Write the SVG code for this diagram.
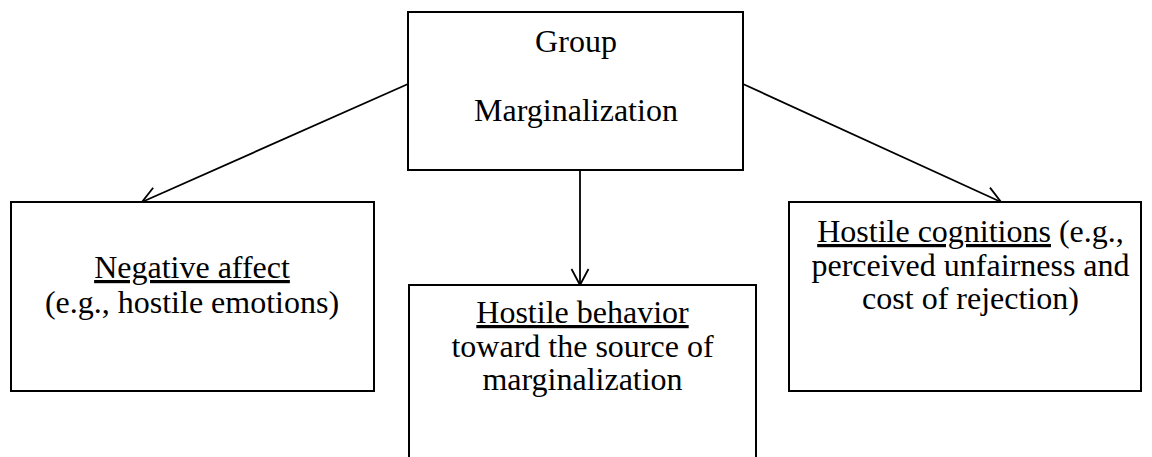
<svg xmlns="http://www.w3.org/2000/svg" width="1152" height="457" viewBox="0 0 1152 457">
<style>
.box{fill:#fff;stroke:#000;stroke-width:2}
.t{font-family:"Liberation Serif","Times New Roman",serif;font-size:32px;fill:#000;text-anchor:middle}
.u{text-decoration:underline}
.c{stroke:#000;stroke-width:1.8;fill:none}
</style>
<defs>
<marker id="ah" markerUnits="userSpaceOnUse" markerWidth="20" markerHeight="20" refX="17" refY="9" orient="auto" viewBox="0 0 20 18">
<path d="M1,0.5 L17,9 L1,17.5" fill="none" stroke="#000" stroke-width="1.8"/>
</marker>
</defs>
<g id="connectors">
<line class="c" x1="408" y1="84" x2="142" y2="202" marker-end="url(#ah)"/>
<line class="c" x1="580" y1="170" x2="580" y2="285" marker-end="url(#ah)"/>
<line class="c" x1="743" y1="84" x2="1001" y2="202" marker-end="url(#ah)"/>
</g>
<g id="group-marginalization">
<rect class="box" x="408" y="12" width="335" height="158"/>
<text class="t" x="576" y="52">Group</text>
<text class="t" x="576" y="121">Marginalization</text>
</g>
<g id="negative-affect">
<rect class="box" x="11" y="202" width="363" height="189"/>
<text class="t" x="192" y="278"><tspan class="u">Negative affect</tspan></text>
<text class="t" x="192" y="313">(e.g., hostile emotions)</text>
</g>
<g id="hostile-behavior">
<rect class="box" x="409" y="285" width="347" height="190"/>
<text class="t" x="582.5" y="323"><tspan class="u">Hostile behavior</tspan></text>
<text class="t" x="582.5" y="357">toward the source of</text>
<text class="t" x="582.5" y="390">marginalization</text>
</g>
<g id="hostile-cognitions">
<rect class="box" x="789" y="202" width="352" height="189"/>
<text class="t" x="970.5" y="242"><tspan class="u">Hostile cognitions</tspan> (e.g.,</text>
<text class="t" x="970.5" y="276">perceived unfairness and</text>
<text class="t" x="970.5" y="309">cost of rejection)</text>
</g>
</svg>
